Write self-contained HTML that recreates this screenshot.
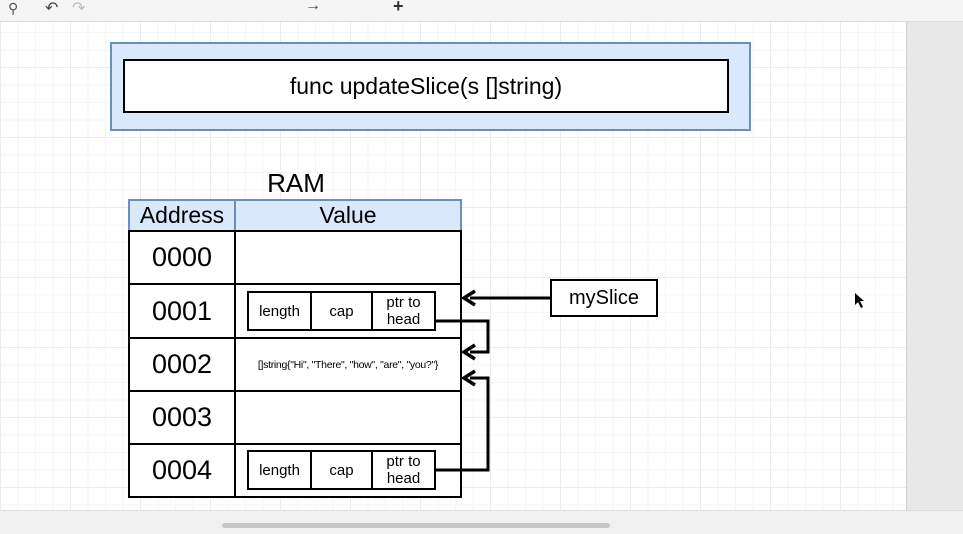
<!DOCTYPE html>
<html><head><style>
body{margin:0;width:963px;height:533px;overflow:hidden;font-family:"Liberation Sans",Arial,sans-serif;background:#fff;position:relative}
.tb{position:absolute;left:0;top:0;width:963px;height:21px;background:#f5f5f5;border-bottom:1px solid #ddd}
.canvas{position:absolute;left:0;top:22px;width:906px;height:488px;background-color:#fff;
background-image:linear-gradient(#ececec 1px,transparent 1px),linear-gradient(90deg,#ececec 1px,transparent 1px),linear-gradient(#f6f6f6 1px,transparent 1px),linear-gradient(90deg,#f6f6f6 1px,transparent 1px);
background-size:70px 70px,70px 70px,17.5px 17.5px,17.5px 17.5px;background-position:0 -25px,0 0,0 -25px,0 0}
.side{position:absolute;left:906px;top:22px;width:57px;height:488px;background:#e8e8e8;border-left:1px solid #d0d0d0}
.bot{position:absolute;left:0;top:510px;width:963px;height:23px;background:#f0f0f0;border-top:1px solid #ddd}
.a{position:absolute;box-sizing:border-box}
.c{display:flex;align-items:center;justify-content:center;text-align:center}
</style></head><body>
<div class="tb"><span style="position:absolute;left:8px;top:0;font-size:14px;color:#555">&#9906;</span><span style="position:absolute;left:45px;top:-2px;font-size:16px;color:#444">&#8630;</span><span style="position:absolute;left:72px;top:-2px;font-size:16px;color:#bbb">&#8631;</span><span style="position:absolute;left:305px;top:-3px;font-size:16px;color:#444">&#8594;</span><span style="position:absolute;left:393px;top:-4px;font-size:18px;font-weight:bold;color:#333">+</span></div>
<div class="canvas"></div>
<div class="side"></div>
<div class="bot"><div class="a" style="left:222px;top:12px;width:388px;height:5px;background:#c8c8c8;border-radius:3px"></div></div>

<div class="a" style="left:110px;top:42px;width:641px;height:89px;background:#dae8fc;border:2px solid #6c8ebf"></div>
<div class="a c" style="left:123px;top:59px;width:606px;height:54px;background:#fff;border:2px solid #000;font-size:23px">func updateSlice(s []string)</div>

<div class="a c" style="left:246px;top:168px;width:100px;height:30px;font-size:26px">RAM</div>
<div class="a c" style="left:128px;top:199px;width:108px;height:33px;background:#dae8fc;border:2px solid #6c8ebf;font-size:23px">Address</div>
<div class="a c" style="left:234px;top:199px;width:228px;height:33px;background:#dae8fc;border:2px solid #6c8ebf;font-size:23px">Value</div>

<div class="a c" style="left:128px;top:230px;width:108px;height:55px;border:2px solid #000;font-size:27px;background:#fff">0000</div>
<div class="a" style="left:234px;top:230px;width:228px;height:55px;border:2px solid #000;background:#fff"></div>
<div class="a c" style="left:128px;top:283px;width:108px;height:56px;border:2px solid #000;font-size:27px;background:#fff">0001</div>
<div class="a" style="left:234px;top:283px;width:228px;height:56px;border:2px solid #000;background:#fff"></div>
<div class="a c" style="left:128px;top:337px;width:108px;height:55px;border:2px solid #000;font-size:27px;background:#fff">0002</div>
<div class="a c" style="left:234px;top:337px;width:228px;height:55px;border:2px solid #000;background:#fff;font-size:10.5px;letter-spacing:-0.3px">[]string{"Hi", "There", "how", "are", "you?"}</div>
<div class="a c" style="left:128px;top:390px;width:108px;height:55px;border:2px solid #000;font-size:27px;background:#fff">0003</div>
<div class="a" style="left:234px;top:390px;width:228px;height:55px;border:2px solid #000;background:#fff"></div>
<div class="a c" style="left:128px;top:443px;width:108px;height:55px;border:2px solid #000;font-size:27px;background:#fff">0004</div>
<div class="a" style="left:234px;top:443px;width:228px;height:55px;border:2px solid #000;background:#fff"></div>

<div class="a c" style="left:247px;top:291px;width:65px;height:40px;border:2px solid #000;font-size:15px">length</div>
<div class="a c" style="left:310px;top:291px;width:63px;height:40px;border:2px solid #000;font-size:15px">cap</div>
<div class="a c" style="left:371px;top:291px;width:65px;height:40px;border:2px solid #000;font-size:15px;line-height:17px">ptr to<br>head</div>
<div class="a c" style="left:247px;top:450px;width:65px;height:40px;border:2px solid #000;font-size:15px">length</div>
<div class="a c" style="left:310px;top:450px;width:63px;height:40px;border:2px solid #000;font-size:15px">cap</div>
<div class="a c" style="left:371px;top:450px;width:65px;height:40px;border:2px solid #000;font-size:15px;line-height:17px">ptr to<br>head</div>

<div class="a c" style="left:550px;top:279px;width:108px;height:38px;border:2px solid #000;font-size:20px;background:#fff">mySlice</div>

<svg class="a" style="left:0;top:0" width="963" height="533">
<g fill="none" stroke="#000" stroke-width="3">
<path d="M550 298H470"/>
<path d="M435 321H488V352H470"/>
<path d="M435 470H488V378H470"/>
</g>
<g fill="none" stroke="#000" stroke-width="3.5" stroke-linejoin="miter">
<path d="M475 291L464 298L475 305"/>
<path d="M475 345L464 352L475 359"/>
<path d="M475 371L464 378L475 385"/>
</g>
<path d="M855 293L855 305L858 302L861 308L863 307L860 301L864 301Z" fill="#000"/>
</svg>
</body></html>
